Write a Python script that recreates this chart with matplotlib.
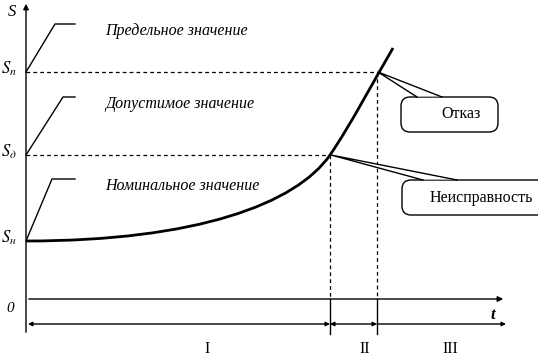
import matplotlib.pyplot as plt
from matplotlib.patches import FancyBboxPatch, Polygon, PathPatch
from matplotlib.path import Path

plt.rcParams['font.family'] = ['Liberation Serif', 'DejaVu Serif']

# levels of the parameter S and moments of time (schematic units)
S_levels = [58, 144, 227]          # S_н, S_д, S_п
S_labels = ['$S_н$', '$S_д$', '$S_п$']
zone_texts = ['Номинальное значение', 'Допустимое значение', 'Предельное значение']
t_marks = [304, 351]               # неисправность, отказ
zone_names = ['I', 'II', 'III']
zone_label_t = [181, 339, 424]

# curve S(t): start, control points and end points
curve_t = [0, 170, 270, 304, 324, 350, 367]
curve_S = [58, 58, 95, 144, 173, 222, 251]

fig = plt.figure(figsize=(5.38, 3.56), dpi=100)
ax = fig.add_axes([0, 0, 1, 1])
ax.set_xlim(-26, 512)
ax.set_ylim(-57, 299)
ax.axis('off')

t_end = 478
lw = 1.0

# axes
ax.annotate('', xy=(0, 298), xytext=(0, -36),
            arrowprops=dict(arrowstyle='-|>', lw=lw, color='black', mutation_scale=8))
ax.annotate('', xy=(t_end + 2, 0), xytext=(0, 0),
            arrowprops=dict(arrowstyle='-|>', lw=lw, color='black', mutation_scale=8))

# interval arrows
y_int = -25
bounds = [2, t_marks[0], t_marks[1], t_end + 2]
ax.annotate('', xy=(bounds[0], y_int), xytext=(bounds[1], y_int),
            arrowprops=dict(arrowstyle='<|-|>', lw=lw, color='black', mutation_scale=6,
                            shrinkA=0, shrinkB=0))
ax.annotate('', xy=(bounds[1], y_int), xytext=(bounds[2], y_int),
            arrowprops=dict(arrowstyle='<|-|>', lw=lw, color='black', mutation_scale=6,
                            shrinkA=0, shrinkB=0))
ax.annotate('', xy=(bounds[2], y_int), xytext=(bounds[3], y_int),
            arrowprops=dict(arrowstyle='<|-', lw=lw, color='black', mutation_scale=6,
                            shrinkA=0, shrinkB=0))
for xt, name in zip(zone_label_t, zone_names):
    ax.text(xt, -50, name, ha='center', va='center', fontsize=11.5)

# dashed levels and time marks
dash = dict(color='black', lw=0.9, linestyle=(0, (3, 2.5)))
ax.plot([0, t_marks[1]], [S_levels[2], S_levels[2]], **dash)
ax.plot([0, t_marks[0]], [S_levels[1], S_levels[1]], **dash)
ax.plot([t_marks[0], t_marks[0]], [S_levels[1], 0], **dash)
ax.plot([t_marks[1], t_marks[1]], [S_levels[2], 0], **dash)
for tm in t_marks:
    ax.plot([tm, tm], [0, -35], color='black', lw=lw)

# curve as two cubic Bezier segments
verts = list(zip(curve_t, curve_S))
codes = [Path.MOVETO] + [Path.CURVE4] * 6
ax.add_patch(PathPatch(Path(verts, codes), fc='none', ec='black', lw=2, zorder=2))

# axis labels
ax.text(-14, 287, 'S', style='italic', fontsize=12, ha='center', va='center')
ax.text(-16, -9, '0', style='italic', fontsize=11, ha='center', va='center')
ax.text(467, -16, 't', style='italic', weight='bold', fontsize=12, ha='center', va='center')
for s, lab in zip(S_levels, S_labels):
    ax.text(-17, s + 3, lab, fontsize=12, ha='center', va='center',
            math_fontfamily='stix')

# leaders with zone names
leader_tops = [120, 202, 275]
leader_dx = [26, 37, 29]
for s, top, dx, txt in zip(S_levels, leader_tops, leader_dx, zone_texts):
    ax.plot([0, dx, 49], [s, top, top], color='black', lw=lw)
    ax.text(79, top - 7, txt, style='italic', fontsize=11.5, ha='left', va='center')

# callouts
def callout(px, py, x0, x1, y0, y1, base, text, dx=0):
    box = FancyBboxPatch((x0, y0), x1 - x0, y1 - y0,
                         boxstyle='round,pad=0,rounding_size=9',
                         fc='white', ec='black', lw=lw, zorder=3)
    ax.add_patch(box)
    ax.add_patch(Polygon([(px, py), (base[0], y1 + 0.5), (base[1], y1 + 0.5)],
                         closed=True, fc='white', ec='none', zorder=4))
    ax.plot([base[0], px, base[1]], [y1, py, y1], color='black', lw=lw, zorder=5)
    ax.text((x0 + x1) / 2 + dx, (y0 + y1) / 2, text, fontsize=11.5,
            ha='center', va='center', zorder=6)

callout(t_marks[1] + 1, S_levels[2], 375, 472, 167, 202, (391, 416), 'Отказ', dx=12)
callout(t_marks[0] + 1, S_levels[1], 376, 534, 84, 119, (397, 431), 'Неисправность')

plt.savefig('out.png', dpi=100)
